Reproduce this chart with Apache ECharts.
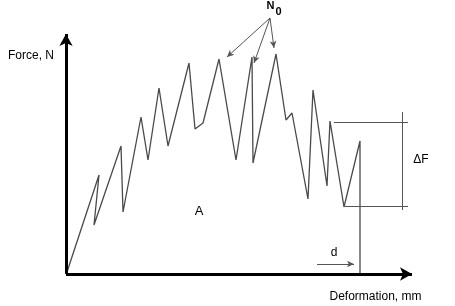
<!DOCTYPE html>
<html>
<head>
<meta charset="utf-8">
<script src="https://cdn.jsdelivr.net/npm/echarts@6/dist/echarts.min.js"></script>
<style>
html,body{margin:0;padding:0;background:#fff;}
#chart{width:455px;height:306px;}
</style>
</head>
<body>
<div id="chart"></div>
<script>
// Schematic load-deformation curve (arbitrary units, origin at axis corner)
const deformation = [1, 33, 28, 55, 57, 75, 82, 93, 102, 123, 129, 137, 153, 170, 186, 187, 210, 220, 226, 242, 247, 261, 264, 278, 294, 294];
const force       = [2, 99, 49, 128, 62, 157, 114, 186, 128, 211, 145, 151, 215, 114, 217, 111, 220, 154, 161, 75, 184, 88, 153, 67, 133, 0];

// Axis extents (arrow tips)
const axisXEnd = 346;
const axisYEnd = 240;

// N0 annotation: label origin and the peaks it points at
const n0From = [204, 256];
const n0Peaks = [[161, 217], [188, 211], [208, 226]];

// Delta F bracket: upper level, lower level, bracket x positions
const dFTop = 152, dFBottom = 68;
const dFTopStart = 268, dFBottomStart = 279, dFEnd = 342, dFBar = 336, dFBarTop = 162, dFBarBottom = 64;

// d arrow
const dArrow = [[251, 10], [288, 10]];

const curve = deformation.map((x, i) => [x, force[i]]);

const FONT = 'Liberation Sans, Arial, sans-serif';
const GRAY = '#555';

function textPoint(coord, text, extra) {
  return Object.assign({
    coord: coord,
    symbol: 'rect',
    symbolSize: 1,
    itemStyle: {color: 'rgba(0,0,0,0)'},
    label: {show: true, position: 'inside', formatter: text, fontFamily: FONT, fontSize: 12, color: '#000'}
  }, extra || {});
}

const chart = echarts.init(document.getElementById('chart'), null, {renderer: 'canvas'});
chart.setOption({
  animation: false,
  backgroundColor: '#fff',
  grid: {left: 0, right: 0, top: 0, bottom: 0},
  xAxis: {type: 'value', min: -66, max: 389, show: false},
  yAxis: {type: 'value', min: -32, max: 274, show: false},
  series: [
    {
      name: 'curve',
      type: 'line',
      data: curve,
      showSymbol: false,
      symbol: 'none',
      lineStyle: {color: '#4a4a4a', width: 1.3},
      silent: true,
      z: 3
    },
    {
      name: 'axes',
      type: 'line',
      data: [[0, 0]],
      showSymbol: false,
      symbol: 'none',
      lineStyle: {width: 0},
      silent: true,
      markLine: {
        silent: true,
        animation: false,
        label: {show: false},
        emphasis: {disabled: true},
        data: [
          [{coord: [0, 0], symbol: 'none'}, {coord: [axisXEnd, 0], symbol: 'arrow', symbolSize: [10, 12], lineStyle: {color: '#000', width: 3, type: 'solid'}}],
          [{coord: [0, 0], symbol: 'none'}, {coord: [0, axisYEnd], symbol: 'arrow', symbolSize: [10, 12], lineStyle: {color: '#000', width: 3, type: 'solid'}}]
        ],
        lineStyle: {color: '#000', width: 3, type: 'solid'}
      }
    },
    {
      name: 'annotations',
      type: 'line',
      data: [[0, 0]],
      showSymbol: false,
      symbol: 'none',
      lineStyle: {width: 0},
      silent: true,
      markLine: {
        silent: true,
        animation: false,
        label: {show: false},
        emphasis: {disabled: true},
        lineStyle: {color: GRAY, width: 1, type: 'solid'},
        data: [
          ...n0Peaks.map(p => [{coord: n0From, symbol: 'none'}, {coord: p, symbol: 'arrow', symbolSize: [5, 7]}]),
          [{coord: [dFTopStart, dFTop], symbol: 'none'}, {coord: [dFEnd, dFTop], symbol: 'none'}],
          [{coord: [dFBottomStart, dFBottom], symbol: 'none'}, {coord: [dFEnd, dFBottom], symbol: 'none'}],
          [{coord: [dFBar, dFBarTop], symbol: 'none'}, {coord: [dFBar, dFBarBottom], symbol: 'none'}],
          [{coord: dArrow[0], symbol: 'none'}, {coord: dArrow[1], symbol: 'arrow', symbolSize: [5, 7]}]
        ]
      },
      markPoint: {
        silent: true,
        animation: false,
        data: [
          textPoint([-35, 218], 'Force, N'),
          textPoint([309.5, -23], 'Deformation, mm'),
          textPoint([133, 63], 'A', {label: {show: true, position: 'inside', formatter: 'A', fontFamily: FONT, fontSize: 13, color: '#000'}}),
          textPoint([355, 114], 'ΔF', {label: {show: true, position: 'inside', formatter: 'ΔF', fontFamily: FONT, fontSize: 12, color: '#000'}}),
          textPoint([268, 21], 'd', {label: {show: true, position: 'inside', formatter: 'd', fontFamily: FONT, fontSize: 12, color: '#000'}}),
          textPoint([208, 265], '{n|N}{s|0}', {label: {show: true, position: 'inside', formatter: '{n|N}{s|0}', fontFamily: FONT, color: '#000',
            rich: {n: {fontFamily: FONT, fontSize: 11, fontWeight: 'bold', color: '#000', verticalAlign: 'top', padding: [0, 1, 6, 0]},
                   s: {fontFamily: FONT, fontSize: 11, fontWeight: 'bold', color: '#000', verticalAlign: 'bottom', padding: [6, 0, 0, 0]}}}})
        ]
      }
    }
  ]
});
</script>
</body>
</html>
